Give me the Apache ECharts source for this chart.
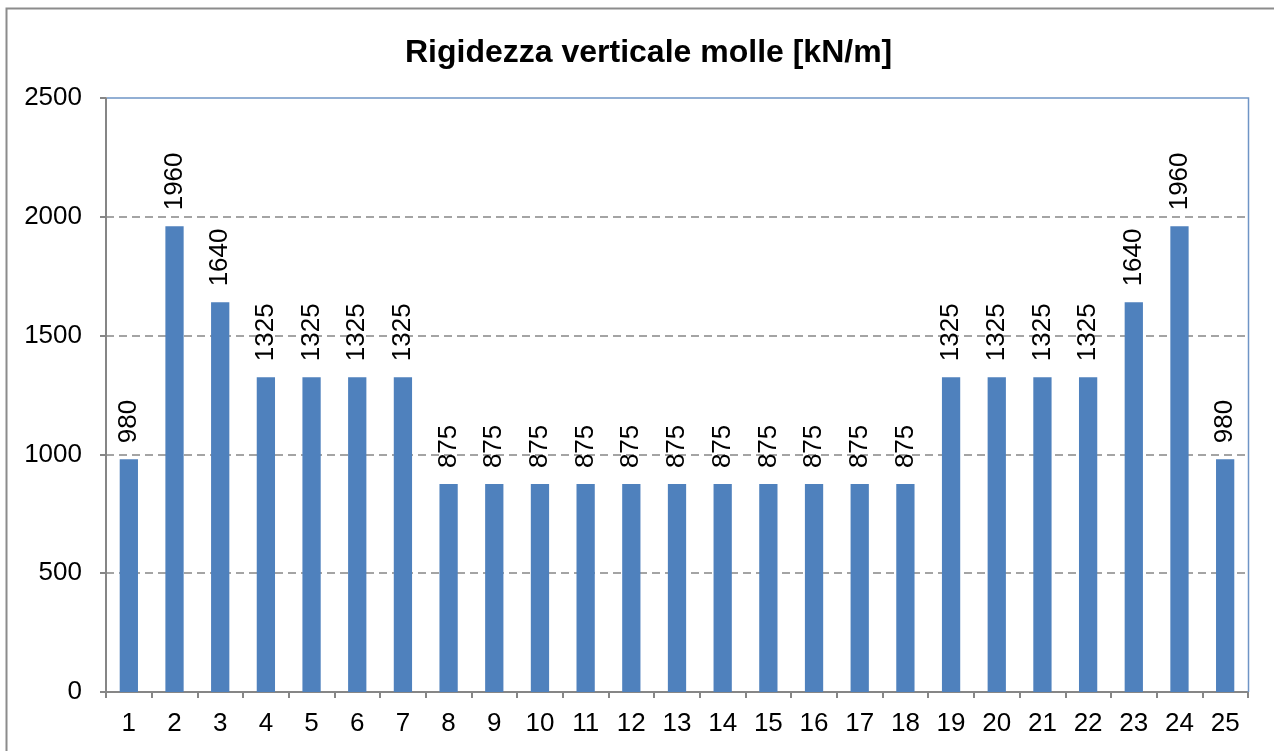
<!DOCTYPE html>
<html>
<head>
<meta charset="utf-8">
<script src="https://cdn.jsdelivr.net/npm/echarts@6/dist/echarts.min.js"></script>
<style>
  html, body { margin: 0; padding: 0; background: #fff; }
  #main { width: 1274px; height: 751px; }
</style>
</head>
<body>
<div id="main"></div>
<script>
// dati delle molle
const molle = ['1','2','3','4','5','6','7','8','9','10','11','12','13','14','15','16','17','18','19','20','21','22','23','24','25'];
const rigidezza = [980,1960,1640,1325,1325,1325,1325,875,875,875,875,875,875,875,875,875,875,875,1325,1325,1325,1325,1640,1960,980];
const yTicks = [0, 500, 1000, 1500, 2000, 2500];

const chart = echarts.init(document.getElementById('main'));
const font = 'Liberation Sans, Arial, sans-serif';

chart.setOption({
  animation: false,
  title: {
    text: 'Rigidezza verticale molle [kN/m]',
    left: 400,
    top: 32,
    textStyle: { fontFamily: font, fontSize: 32, fontWeight: 'bold', color: '#000' }
  },
  graphic: [
    { // cornice esterna
      type: 'rect',
      z: 100,
      shape: { x: 6.5, y: 8.5, width: 1300, height: 800 },
      style: { fill: 'none', stroke: '#8c8c8c', lineWidth: 2 }
    },
    { // bordo area grafico (alto e destra)
      type: 'polyline',
      z: 100,
      shape: { points: [[107, 98], [1248.5, 98], [1248.5, 692]] },
      style: { fill: 'none', stroke: '#6f95c6', lineWidth: 1.5 }
    }
  ],
  grid: { left: 106, right: 26, top: 98, bottom: 59 },
  xAxis: {
    type: 'category',
    data: molle,
    axisLine: { lineStyle: { color: '#868686', width: 2 } },
    axisTick: { show: true, length: 6, lineStyle: { color: '#868686', width: 2 } },
    axisLabel: { color: '#000', fontFamily: font, fontSize: 26, margin: 19 }
  },
  yAxis: {
    type: 'value',
    min: yTicks[0],
    max: yTicks[yTicks.length - 1],
    interval: 500,
    axisLine: { show: true, lineStyle: { color: '#868686', width: 2 } },
    axisTick: { show: true, length: 6, lineStyle: { color: '#868686', width: 2 } },
    axisLabel: { color: '#000', fontFamily: font, fontSize: 26, margin: 24, formatter: v => String(v) },
    splitLine: { show: true, showMaxLine: false, lineStyle: { color: '#868686', type: [8, 5], width: 1.5 } }
  },
  series: [{
    type: 'bar',
    data: rigidezza,
    barWidth: '40%',
    itemStyle: { color: '#4f81bd' },
    label: {
      show: true,
      position: 'top',
      rotate: 90,
      align: 'left',
      verticalAlign: 'middle',
      distance: 16,
      color: '#000',
      fontFamily: font,
      fontSize: 26
    }
  }]
});
</script>
</body>
</html>
